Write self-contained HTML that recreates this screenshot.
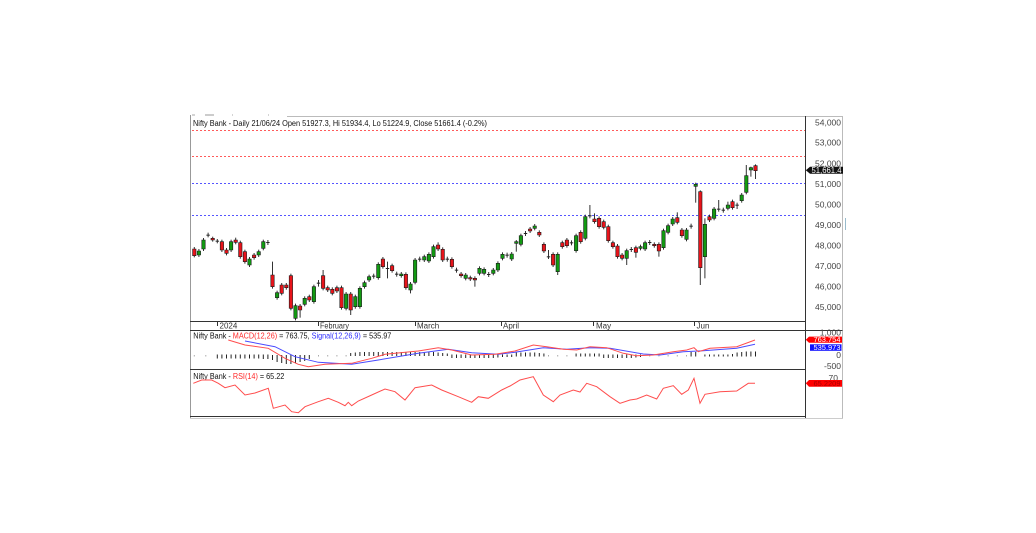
<!DOCTYPE html>
<html><head><meta charset="utf-8"><style>
html,body{margin:0;padding:0;background:#fff;}
svg{display:block;font-family:"Liberation Sans",Arial,sans-serif;}
.w{stroke:#333;stroke-width:1;vector-effect:non-scaling-stroke;}
.g{fill:#129a12;stroke:#1a1a1a;stroke-width:0.6;vector-effect:non-scaling-stroke;}
.r{fill:#e8141b;stroke:#1a1a1a;stroke-width:0.6;vector-effect:non-scaling-stroke;}
.d{fill:#222;}
.h{stroke:#222;stroke-width:1;vector-effect:non-scaling-stroke;}
.hd{stroke:#aaa;stroke-width:1;vector-effect:non-scaling-stroke;}
.ax{font-size:8.5px;fill:#444;text-anchor:end;}
.xl{font-size:8px;fill:#333;}
</style></head><body>
<svg width="1036" height="533" viewBox="0 0 1036 533" xmlns="http://www.w3.org/2000/svg">
<rect width="1036" height="533" fill="#fff"/>
<!-- frame -->
<line x1="190.5" y1="115" x2="190.5" y2="418" stroke="#999"/>
<line x1="287" y1="116.5" x2="842.5" y2="116.5" stroke="#bbb"/>
<line x1="842.5" y1="116" x2="842.5" y2="418" stroke="#bbb"/>
<line x1="190" y1="418.5" x2="843" y2="418.5" stroke="#ccc"/>
<line x1="192" y1="115" x2="195" y2="115" stroke="#aaa"/>
<line x1="205" y1="115" x2="214" y2="115" stroke="#999"/>
<line x1="232" y1="115" x2="233" y2="115" stroke="#aaa"/>
<line x1="268" y1="115" x2="269" y2="115" stroke="#aaa"/>
<line x1="845.5" y1="218" x2="845.5" y2="230" stroke="#9bc"/>
<!-- pane lines -->
<line x1="805.5" y1="116" x2="805.5" y2="418" stroke="#333"/>
<line x1="190" y1="321.5" x2="805.5" y2="321.5" stroke="#333"/>
<line x1="190" y1="330.5" x2="842.5" y2="330.5" stroke="#333"/>
<line x1="190" y1="369.5" x2="805.5" y2="369.5" stroke="#333"/>
<line x1="190" y1="416.5" x2="805.5" y2="416.5" stroke="#333"/>
<!-- dashed levels -->
<g stroke-width="1" stroke-dasharray="2 2">
<line x1="192" y1="130.5" x2="805" y2="130.5" stroke="#ff5a5a"/>
<line x1="192" y1="156.5" x2="805" y2="156.5" stroke="#ff5a5a"/>
<line x1="192" y1="183.5" x2="805" y2="183.5" stroke="#5555ff"/>
<line x1="192" y1="215.5" x2="805" y2="215.5" stroke="#5555ff"/>
</g>
<!-- title -->
<text x="193" y="126" font-size="8" fill="#111" textLength="294" lengthAdjust="spacingAndGlyphs">Nifty Bank - Daily 21/06/24 Open 51927.3, Hi 51934.4, Lo 51224.9, Close 51661.4 (-0.2%)</text>
<!-- candles -->
<g transform="matrix(4.6 0 0 0.333333 194.3 105)">
<line class="w" x1="0" x2="0" y1="426" y2="457"/><rect class="r" x="-.37" y="432" width=".74" height="20"/>
<line class="w" x1="1" x2="1" y1="432" y2="456"/><rect class="g" x=".63" y="438" width=".74" height="12"/>
<line class="w" x1="2" x2="2" y1="399" y2="438"/><rect class="g" x="1.63" y="405" width=".74" height="27"/>
<line class="w" x1="3" x2="3" y1="383" y2="397"/><rect class="d" x="2.63" y="389" width=".74" height="3"/>
<line class="w" x1="4" x2="4" y1="395" y2="410"/><rect class="r" x="3.63" y="400" width=".74" height="5"/>
<line class="w" x1="5" x2="5" y1="402" y2="415"/><rect class="d" x="4.63" y="407" width=".74" height="3"/>
<line class="w" x1="6" x2="6" y1="404" y2="441"/><rect class="r" x="5.63" y="410" width=".74" height="25"/>
<line class="w" x1="7" x2="7" y1="429" y2="451"/><rect class="r" x="6.63" y="435" width=".74" height="10"/>
<line class="w" x1="8" x2="8" y1="404" y2="441"/><rect class="g" x="7.63" y="410" width=".74" height="25"/>
<line class="w" x1="9" x2="9" y1="398" y2="418"/><rect class="r" x="8.63" y="405" width=".74" height="7"/>
<line class="w" x1="10" x2="10" y1="407" y2="461"/><rect class="r" x="9.63" y="413" width=".74" height="42"/>
<line class="w" x1="11" x2="11" y1="434" y2="476"/><rect class="r" x="10.63" y="440" width=".74" height="30"/>
<line class="w" x1="12" x2="12" y1="456" y2="486"/><rect class="g" x="11.63" y="462" width=".74" height="18"/>
<line class="w" x1="13" x2="13" y1="444" y2="464"/><rect class="r" x="12.63" y="450" width=".74" height="8"/>
<line class="w" x1="14" x2="14" y1="434" y2="456"/><rect class="g" x="13.63" y="440" width=".74" height="10"/>
<line class="w" x1="15" x2="15" y1="404" y2="436"/><rect class="g" x="14.63" y="410" width=".74" height="20"/>
<line class="w" x1="16" x2="16" y1="405" y2="420"/><rect class="d" x="15.63" y="411" width=".74" height="3"/>
<line class="w" x1="17" x2="17" y1="470" y2="551"/><rect class="r" x="16.63" y="510" width=".74" height="35"/>
<line class="w" x1="18" x2="18" y1="557" y2="584"/><rect class="g" x="17.63" y="563" width=".74" height="15"/>
<line class="w" x1="19" x2="19" y1="534" y2="571"/><rect class="r" x="18.63" y="540" width=".74" height="25"/>
<line class="w" x1="20" x2="20" y1="534" y2="554"/><rect class="r" x="19.63" y="540" width=".74" height="8"/>
<line class="w" x1="21" x2="21" y1="506" y2="616"/><rect class="r" x="20.63" y="512" width=".74" height="98"/>
<line class="w" x1="22" x2="22" y1="596" y2="646"/><rect class="g" x="21.63" y="602" width=".74" height="38"/>
<line class="w" x1="23" x2="23" y1="597" y2="638"/><rect class="r" x="22.63" y="603" width=".74" height="12"/>
<line class="w" x1="24" x2="24" y1="574" y2="604"/><rect class="g" x="23.63" y="580" width=".74" height="18"/>
<line class="w" x1="25" x2="25" y1="569" y2="591"/><rect class="r" x="24.63" y="575" width=".74" height="10"/>
<line class="w" x1="26" x2="26" y1="539" y2="596"/><rect class="g" x="25.63" y="545" width=".74" height="45"/>
<line class="w" x1="27" x2="27" y1="525" y2="545"/><rect class="d" x="26.63" y="533" width=".74" height="3"/>
<line class="w" x1="28" x2="28" y1="495" y2="556"/><rect class="r" x="27.63" y="512" width=".74" height="38"/>
<line class="w" x1="29" x2="29" y1="542" y2="561"/><rect class="r" x="28.63" y="548" width=".74" height="7"/>
<line class="w" x1="30" x2="30" y1="547" y2="571"/><rect class="r" x="29.63" y="553" width=".74" height="12"/>
<line class="w" x1="31" x2="31" y1="542" y2="564"/><rect class="r" x="30.63" y="548" width=".74" height="10"/>
<line class="w" x1="32" x2="32" y1="542" y2="614"/><rect class="r" x="31.63" y="548" width=".74" height="60"/>
<line class="w" x1="33" x2="33" y1="561" y2="616"/><rect class="g" x="32.63" y="567" width=".74" height="43"/>
<line class="w" x1="34" x2="34" y1="561" y2="630"/><rect class="r" x="33.63" y="567" width=".74" height="48"/>
<line class="w" x1="35" x2="35" y1="569" y2="611"/><rect class="g" x="34.63" y="575" width=".74" height="30"/>
<line class="w" x1="36" x2="36" y1="544" y2="611"/><rect class="g" x="35.63" y="550" width=".74" height="55"/>
<line class="w" x1="37" x2="37" y1="527" y2="551"/><rect class="g" x="36.63" y="533" width=".74" height="12"/>
<line class="w" x1="38" x2="38" y1="509" y2="531"/><rect class="g" x="37.63" y="515" width=".74" height="10"/>
<line class="w" x1="39" x2="39" y1="506" y2="521"/><rect class="d" x="38.63" y="512" width=".74" height="3"/>
<line class="w" x1="40" x2="40" y1="472" y2="524"/><rect class="g" x="39.63" y="478" width=".74" height="40"/>
<line class="w" x1="41" x2="41" y1="456" y2="491"/><rect class="r" x="40.63" y="462" width=".74" height="23"/>
<line class="w" x1="42" x2="42" y1="470" y2="520"/><rect class="d" x="41.63" y="489" width=".74" height="3"/>
<line class="w" x1="43" x2="43" y1="476" y2="503"/><rect class="r" x="42.63" y="482" width=".74" height="15"/>
<line class="w" x1="44" x2="44" y1="500" y2="515"/><rect class="d" x="43.63" y="506" width=".74" height="3"/>
<line class="w" x1="45" x2="45" y1="501" y2="518"/><rect class="g" x="44.63" y="507" width=".74" height="5"/>
<line class="w" x1="46" x2="46" y1="502" y2="554"/><rect class="r" x="45.63" y="508" width=".74" height="40"/>
<line class="w" x1="47" x2="47" y1="531" y2="565"/><rect class="g" x="46.63" y="537" width=".74" height="18"/>
<line class="w" x1="48" x2="48" y1="459" y2="538"/><rect class="g" x="47.63" y="465" width=".74" height="67"/>
<line class="w" x1="49" x2="49" y1="455" y2="470"/><rect class="d" x="48.63" y="461" width=".74" height="3"/>
<line class="w" x1="50" x2="50" y1="449" y2="471"/><rect class="g" x="49.63" y="455" width=".74" height="10"/>
<line class="w" x1="51" x2="51" y1="442" y2="474"/><rect class="g" x="50.63" y="448" width=".74" height="20"/>
<line class="w" x1="52" x2="52" y1="419" y2="461"/><rect class="g" x="51.63" y="425" width=".74" height="30"/>
<line class="w" x1="53" x2="53" y1="412" y2="438"/><rect class="r" x="52.63" y="420" width=".74" height="12"/>
<line class="w" x1="54" x2="54" y1="427" y2="471"/><rect class="r" x="53.63" y="433" width=".74" height="32"/>
<line class="w" x1="55" x2="55" y1="455" y2="470"/><rect class="d" x="54.63" y="461" width=".74" height="3"/>
<line class="w" x1="56" x2="56" y1="457" y2="491"/><rect class="r" x="55.63" y="463" width=".74" height="22"/>
<line class="w" x1="57" x2="57" y1="488" y2="503"/><rect class="d" x="56.63" y="494" width=".74" height="3"/>
<line class="w" x1="58" x2="58" y1="501" y2="518"/><rect class="r" x="57.63" y="507" width=".74" height="5"/>
<line class="w" x1="59" x2="59" y1="504" y2="526"/><rect class="g" x="58.63" y="510" width=".74" height="10"/>
<line class="w" x1="60" x2="60" y1="512" y2="528"/><rect class="r" x="59.63" y="518" width=".74" height="4"/>
<line class="w" x1="61" x2="61" y1="514" y2="545"/><rect class="r" x="60.63" y="520" width=".74" height="5"/>
<line class="w" x1="62" x2="62" y1="484" y2="511"/><rect class="g" x="61.63" y="490" width=".74" height="15"/>
<line class="w" x1="63" x2="63" y1="487" y2="511"/><rect class="g" x="62.63" y="493" width=".74" height="12"/>
<line class="w" x1="64" x2="64" y1="501" y2="516"/><rect class="d" x="63.63" y="507" width=".74" height="3"/>
<line class="w" x1="65" x2="65" y1="489" y2="511"/><rect class="g" x="64.63" y="495" width=".74" height="10"/>
<line class="w" x1="66" x2="66" y1="469" y2="501"/><rect class="g" x="65.63" y="475" width=".74" height="20"/>
<line class="w" x1="67" x2="67" y1="442" y2="466"/><rect class="g" x="66.63" y="448" width=".74" height="12"/>
<line class="w" x1="68" x2="68" y1="443" y2="458"/><rect class="d" x="67.63" y="449" width=".74" height="3"/>
<line class="w" x1="69" x2="69" y1="441" y2="468"/><rect class="g" x="68.63" y="447" width=".74" height="15"/>
<line class="w" x1="70" x2="70" y1="405" y2="440"/><rect class="g" x="69.63" y="410" width=".74" height="5"/>
<line class="w" x1="71" x2="71" y1="386" y2="424"/><rect class="g" x="70.63" y="392" width=".74" height="26"/>
<line class="w" x1="72" x2="72" y1="378" y2="393"/><rect class="d" x="71.63" y="384" width=".74" height="3"/>
<line class="w" x1="73" x2="73" y1="366" y2="384"/><rect class="r" x="72.63" y="372" width=".74" height="6"/>
<line class="w" x1="74" x2="74" y1="357" y2="376"/><rect class="g" x="73.63" y="363" width=".74" height="7"/>
<line class="w" x1="75" x2="75" y1="376" y2="396"/><rect class="r" x="74.63" y="382" width=".74" height="8"/>
<line class="w" x1="76" x2="76" y1="412" y2="444"/><rect class="r" x="75.63" y="418" width=".74" height="20"/>
<line class="w" x1="77" x2="77" y1="435" y2="462"/><rect class="d" x="76.63" y="454" width=".74" height="3"/>
<line class="w" x1="78" x2="78" y1="442" y2="486"/><rect class="r" x="77.63" y="448" width=".74" height="32"/>
<line class="w" x1="79" x2="79" y1="442" y2="510"/><rect class="g" x="78.63" y="448" width=".74" height="52"/>
<line class="w" x1="80" x2="80" y1="407" y2="431"/><rect class="r" x="79.63" y="413" width=".74" height="12"/>
<line class="w" x1="81" x2="81" y1="399" y2="428"/><rect class="r" x="80.63" y="405" width=".74" height="17"/>
<line class="w" x1="82" x2="82" y1="406" y2="421"/><rect class="d" x="81.63" y="412" width=".74" height="3"/>
<line class="w" x1="83" x2="83" y1="386" y2="443"/><rect class="g" x="82.63" y="392" width=".74" height="45"/>
<line class="w" x1="84" x2="84" y1="376" y2="416"/><rect class="r" x="83.63" y="382" width=".74" height="28"/>
<line class="w" x1="85" x2="85" y1="329" y2="406"/><rect class="g" x="84.63" y="335" width=".74" height="65"/>
<line class="w" x1="86" x2="86" y1="300" y2="340"/><rect class="d" x="85.63" y="331" width=".74" height="3"/>
<line class="w" x1="87" x2="87" y1="325" y2="356"/><rect class="r" x="86.63" y="342" width=".74" height="8"/>
<line class="w" x1="88" x2="88" y1="334" y2="371"/><rect class="r" x="87.63" y="340" width=".74" height="25"/>
<line class="w" x1="89" x2="89" y1="344" y2="373"/><rect class="r" x="88.63" y="350" width=".74" height="17"/>
<line class="w" x1="90" x2="90" y1="359" y2="413"/><rect class="r" x="89.63" y="365" width=".74" height="42"/>
<line class="w" x1="91" x2="91" y1="407" y2="431"/><rect class="r" x="90.63" y="413" width=".74" height="12"/>
<line class="w" x1="92" x2="92" y1="417" y2="461"/><rect class="r" x="91.63" y="423" width=".74" height="32"/>
<line class="w" x1="93" x2="93" y1="444" y2="466"/><rect class="r" x="92.63" y="450" width=".74" height="10"/>
<line class="w" x1="94" x2="94" y1="431" y2="480"/><rect class="g" x="93.63" y="437" width=".74" height="23"/>
<line class="w" x1="95" x2="95" y1="426" y2="441"/><rect class="d" x="94.63" y="432" width=".74" height="3"/>
<line class="w" x1="96" x2="96" y1="422" y2="458"/><rect class="r" x="95.63" y="428" width=".74" height="14"/>
<line class="w" x1="97" x2="97" y1="419" y2="436"/><rect class="g" x="96.63" y="425" width=".74" height="5"/>
<line class="w" x1="98" x2="98" y1="407" y2="438"/><rect class="g" x="97.63" y="413" width=".74" height="19"/>
<line class="w" x1="99" x2="99" y1="405" y2="420"/><rect class="d" x="98.63" y="411" width=".74" height="3"/>
<line class="w" x1="100" x2="100" y1="412" y2="428"/><rect class="r" x="99.63" y="418" width=".74" height="4"/>
<line class="w" x1="101" x2="101" y1="412" y2="455"/><rect class="r" x="100.63" y="418" width=".74" height="20"/>
<line class="w" x1="102" x2="102" y1="371" y2="434"/><rect class="g" x="101.63" y="377" width=".74" height="51"/>
<line class="w" x1="103" x2="103" y1="356" y2="388"/><rect class="g" x="102.63" y="362" width=".74" height="20"/>
<line class="w" x1="104" x2="104" y1="336" y2="363"/><rect class="g" x="103.63" y="342" width=".74" height="15"/>
<line class="w" x1="105" x2="105" y1="322" y2="358"/><rect class="r" x="104.63" y="338" width=".74" height="14"/>
<line class="w" x1="106" x2="106" y1="369" y2="398"/><rect class="r" x="105.63" y="375" width=".74" height="17"/>
<line class="w" x1="107" x2="107" y1="369" y2="409"/><rect class="g" x="106.63" y="375" width=".74" height="28"/>
<line class="w" x1="108" x2="108" y1="356" y2="371"/><rect class="d" x="107.63" y="362" width=".74" height="3"/>
<line class="w" x1="109" x2="109" y1="233" y2="293"/><rect class="g" x="108.63" y="238" width=".74" height="6"/>
<line class="w" x1="110" x2="110" y1="256" y2="540"/><rect class="r" x="109.63" y="260" width=".74" height="228"/>
<line class="w" x1="111" x2="111" y1="340" y2="520"/><rect class="g" x="110.63" y="358" width=".74" height="97"/>
<line class="w" x1="112" x2="112" y1="329" y2="351"/><rect class="r" x="111.63" y="335" width=".74" height="10"/>
<line class="w" x1="113" x2="113" y1="306" y2="346"/><rect class="g" x="112.63" y="312" width=".74" height="28"/>
<line class="w" x1="114" x2="114" y1="285" y2="320"/><rect class="d" x="113.63" y="311" width=".74" height="3"/>
<line class="w" x1="115" x2="115" y1="308" y2="323"/><rect class="d" x="114.63" y="314" width=".74" height="3"/>
<line class="w" x1="116" x2="116" y1="290" y2="316"/><rect class="g" x="115.63" y="300" width=".74" height="10"/>
<line class="w" x1="117" x2="117" y1="284" y2="314"/><rect class="r" x="116.63" y="290" width=".74" height="18"/>
<line class="w" x1="118" x2="118" y1="293" y2="312"/><rect class="d" x="117.63" y="299" width=".74" height="3"/>
<line class="w" x1="119" x2="119" y1="264" y2="293"/><rect class="g" x="118.63" y="270" width=".74" height="17"/>
<line class="w" x1="120" x2="120" y1="180" y2="268"/><rect class="g" x="119.63" y="212" width=".74" height="50"/>
<line class="w" x1="121" x2="121" y1="185" y2="215"/><rect class="g" x="120.63" y="188" width=".74" height="7"/>
<line class="w" x1="122" x2="122" y1="178" y2="222"/><rect class="r" x="121.63" y="182" width=".74" height="15"/>
</g>
<!-- price axis labels -->
<text class="ax" x="841" y="125.3">54,000</text>
<text class="ax" x="841" y="145.7">53,000</text>
<text class="ax" x="841" y="166.3">52,000</text>
<text class="ax" x="841" y="187">51,000</text>
<text class="ax" x="841" y="207.3">50,000</text>
<text class="ax" x="841" y="228">49,000</text>
<text class="ax" x="841" y="248.3">48,000</text>
<text class="ax" x="841" y="269">47,000</text>
<text class="ax" x="841" y="289.7">46,000</text>
<text class="ax" x="841" y="310">45,000</text>
<polygon points="805.8,170.3 810,166.8 843,166.8 843,173.8 810,173.8" fill="#111"/>
<text x="841.5" y="173" font-size="8" fill="#fff" text-anchor="end" textLength="30" lengthAdjust="spacingAndGlyphs">51,661.4</text>
<!-- x axis -->
<g stroke="#333" stroke-width="1">
<line x1="217.5" y1="322" x2="217.5" y2="326"/>
<line x1="318.5" y1="322" x2="318.5" y2="326"/>
<line x1="415.5" y1="322" x2="415.5" y2="326"/>
<line x1="501.5" y1="322" x2="501.5" y2="326"/>
<line x1="593.5" y1="322" x2="593.5" y2="326"/>
<line x1="694.5" y1="322" x2="694.5" y2="326"/>
</g>
<text class="xl" x="219.5" y="328.3">2024</text>
<text class="xl" x="320" y="328.3" textLength="29" lengthAdjust="spacingAndGlyphs">February</text>
<text class="xl" x="417" y="328.3">March</text>
<text class="xl" x="503" y="328.3">April</text>
<text class="xl" x="596" y="328.3">May</text>
<text class="xl" x="696.5" y="328.3">Jun</text>
<!-- MACD pane -->
<text x="193.3" y="338.5" font-size="8" fill="#111" textLength="198" lengthAdjust="spacingAndGlyphs">Nifty Bank - <tspan fill="#ff2a2a">MACD(12,26)</tspan> = 763.75, <tspan fill="#3030ff">Signal(12,26,9)</tspan> = 535.97</text>
<g transform="matrix(4.6 0 0 1 194.3 0)">
<line class="hd" x1="0" x2="0" y1="355" y2="356.5"/>
<line class="hd" x1="2.5" x2="2.5" y1="355" y2="356.5"/>
<line class="h" x1="5" x2="5" y1="354.5" y2="358.5"/><line class="h" x1="6" x2="6" y1="354.5" y2="358.5"/><line class="h" x1="7" x2="7" y1="354.5" y2="358.5"/><line class="h" x1="8" x2="8" y1="354.5" y2="358.5"/><line class="h" x1="9" x2="9" y1="354.5" y2="358.5"/><line class="h" x1="10" x2="10" y1="354.5" y2="358.5"/><line class="h" x1="11" x2="11" y1="354.5" y2="358.5"/><line class="h" x1="12" x2="12" y1="354.5" y2="358.5"/><line class="h" x1="13" x2="13" y1="354.5" y2="358.5"/><line class="h" x1="14" x2="14" y1="354.5" y2="358.5"/><line class="h" x1="15" x2="15" y1="354.5" y2="359"/><line class="h" x1="16" x2="16" y1="354.5" y2="359"/>
<line class="h" x1="17" x2="17" y1="355" y2="360"/><line class="h" x1="18" x2="18" y1="355" y2="362"/><line class="h" x1="19" x2="19" y1="355" y2="363"/><line class="h" x1="20" x2="20" y1="355" y2="364"/><line class="h" x1="21" x2="21" y1="355" y2="364"/><line class="h" x1="22" x2="22" y1="355" y2="363"/><line class="h" x1="23" x2="23" y1="355" y2="362"/><line class="h" x1="24" x2="24" y1="355" y2="361"/><line class="h" x1="25" x2="25" y1="355" y2="359"/>
<line class="hd" x1="27" x2="27" y1="355" y2="356.5"/><line class="hd" x1="29" x2="29" y1="355" y2="356.5"/><line class="hd" x1="31" x2="31" y1="355" y2="356.5"/><line class="hd" x1="33" x2="33" y1="355" y2="356.5"/>
<line class="h" x1="34" x2="34" y1="353" y2="356"/><line class="h" x1="35" x2="35" y1="352.5" y2="356"/><line class="h" x1="36" x2="36" y1="352" y2="356"/><line class="h" x1="37" x2="37" y1="352" y2="356"/><line class="h" x1="38" x2="38" y1="352" y2="356"/><line class="h" x1="39" x2="39" y1="352" y2="356"/><line class="h" x1="40" x2="40" y1="352" y2="356"/><line class="h" x1="41" x2="41" y1="352" y2="356"/><line class="h" x1="42" x2="42" y1="352" y2="356"/><line class="h" x1="43" x2="43" y1="352" y2="356"/><line class="h" x1="44" x2="44" y1="352" y2="356"/><line class="h" x1="45" x2="45" y1="352" y2="356"/><line class="h" x1="46" x2="46" y1="352" y2="356"/><line class="h" x1="47" x2="47" y1="352" y2="356"/><line class="h" x1="48" x2="48" y1="352" y2="356"/><line class="h" x1="49" x2="49" y1="352" y2="356"/><line class="h" x1="50" x2="50" y1="352" y2="356"/><line class="h" x1="51" x2="51" y1="352" y2="356"/><line class="h" x1="52" x2="52" y1="352" y2="356"/><line class="h" x1="53" x2="53" y1="352.5" y2="356"/><line class="h" x1="54" x2="54" y1="353" y2="356"/><line class="h" x1="55" x2="55" y1="353.5" y2="356"/>
<line class="h" x1="56" x2="56" y1="354.5" y2="358"/><line class="h" x1="57" x2="57" y1="354.5" y2="358"/><line class="h" x1="58" x2="58" y1="354.5" y2="358"/><line class="h" x1="59" x2="59" y1="354.5" y2="358"/><line class="h" x1="60" x2="60" y1="354.5" y2="358"/><line class="h" x1="61" x2="61" y1="354.5" y2="358"/><line class="h" x1="62" x2="62" y1="354.5" y2="358"/><line class="h" x1="63" x2="63" y1="354.5" y2="358"/><line class="h" x1="64" x2="64" y1="354.5" y2="358"/><line class="h" x1="65" x2="65" y1="354.5" y2="358"/><line class="h" x1="66" x2="66" y1="354.5" y2="357.5"/><line class="h" x1="67" x2="67" y1="354.5" y2="357"/><line class="h" x1="68" x2="68" y1="354.5" y2="357"/><line class="h" x1="69" x2="69" y1="354.5" y2="357"/>
<line class="h" x1="70" x2="70" y1="352.5" y2="356.5"/><line class="h" x1="71" x2="71" y1="352.5" y2="356.5"/><line class="h" x1="72" x2="72" y1="352.5" y2="356.5"/><line class="h" x1="73" x2="73" y1="352.5" y2="356.5"/><line class="h" x1="74" x2="74" y1="352.5" y2="356.5"/><line class="h" x1="75" x2="75" y1="353" y2="356.5"/><line class="h" x1="76" x2="76" y1="353.5" y2="356.5"/>
<line class="hd" x1="77" x2="77" y1="355" y2="356.5"/><line class="hd" x1="79" x2="79" y1="355" y2="356.5"/><line class="hd" x1="81" x2="81" y1="355" y2="356.5"/>
<line class="h" x1="83" x2="83" y1="353.5" y2="356.5"/><line class="h" x1="84" x2="84" y1="353.5" y2="356.5"/><line class="h" x1="85" x2="85" y1="353.5" y2="356.5"/><line class="h" x1="86" x2="86" y1="353.5" y2="356.5"/><line class="h" x1="87" x2="87" y1="353.5" y2="356.5"/><line class="h" x1="88" x2="88" y1="353.5" y2="356.5"/>
<line class="h" x1="89" x2="89" y1="354.5" y2="358"/><line class="h" x1="90" x2="90" y1="354.5" y2="358"/><line class="h" x1="91" x2="91" y1="354.5" y2="358"/><line class="h" x1="92" x2="92" y1="354.5" y2="358"/><line class="h" x1="93" x2="93" y1="354.5" y2="358"/><line class="h" x1="94" x2="94" y1="354.5" y2="358"/><line class="h" x1="95" x2="95" y1="354.5" y2="358"/><line class="h" x1="96" x2="96" y1="354.5" y2="357.5"/><line class="h" x1="97" x2="97" y1="354.5" y2="357"/>
<line class="hd" x1="99" x2="99" y1="355" y2="356.5"/><line class="hd" x1="101" x2="101" y1="355" y2="356.5"/><line class="hd" x1="103" x2="103" y1="355" y2="356.5"/><line class="hd" x1="105" x2="105" y1="355" y2="356.5"/><line class="hd" x1="107" x2="107" y1="355" y2="356.5"/>
<line class="h" x1="108" x2="108" y1="352" y2="356.5"/><line class="h" x1="109" x2="109" y1="352" y2="356.5"/>
<line class="h" x1="111" x2="111" y1="354.5" y2="356.5"/><line class="h" x1="112" x2="112" y1="354.5" y2="356.5"/><line class="h" x1="113" x2="113" y1="354.5" y2="356.5"/><line class="h" x1="114" x2="114" y1="354.5" y2="356.5"/><line class="h" x1="115" x2="115" y1="354.5" y2="356.5"/><line class="h" x1="116" x2="116" y1="354.5" y2="356.5"/><line class="h" x1="117" x2="117" y1="354" y2="356.5"/>
<line class="h" x1="118" x2="118" y1="352.5" y2="356.5"/><line class="h" x1="119" x2="119" y1="352" y2="356.5"/><line class="h" x1="120" x2="120" y1="351.5" y2="356.5"/><line class="h" x1="121" x2="121" y1="351.5" y2="356.5"/><line class="h" x1="122" x2="122" y1="351.5" y2="356.5"/>
</g>
<polyline fill="none" stroke="#4a4aff" stroke-width="1" points="245,341 275,346.7 295,356.7 318.3,362.3 351.7,364.3 378.3,360 418.3,353.3 448.3,349.3 471.7,352.7 498.3,354.3 515,352.3 543.3,347.7 566.7,349.3 590,347.7 610,348.3 643.3,354 660,355 683.3,351.7 703.3,350.7 736.7,348.3 755,344.3"/>
<polyline fill="none" stroke="#ff4d4d" stroke-width="1" points="228.3,340 245,345 268.3,348.3 285,358.3 298.3,364.3 308.3,366.7 325,364.3 351.7,363.3 371.7,358.3 385,354.3 418.3,351 438.3,347.7 451.7,350 471.7,355 495,354.3 515,351 533.3,345 546.7,346.7 563.3,349.3 576.7,350 590,346.7 606.7,347.7 623.3,353.3 636.7,355.7 653.3,355 673.3,351.7 686.7,350 694,347.7 698.3,351.7 710,348.3 736.7,346.7 755,340"/>
<text class="ax" x="841" y="335.5" font-size="8">1,000</text>
<text class="ax" x="841" y="358" font-size="8">0</text>
<text class="ax" x="841" y="369" font-size="8">-500</text>
<polygon points="805.8,339.7 809,336.6 842,336.6 842,342.8 809,342.8" fill="#ff0000"/>
<text x="840.5" y="342" font-size="7.5" fill="#fff" text-anchor="end" textLength="27" lengthAdjust="spacingAndGlyphs">763.754</text>
<rect x="810" y="344.3" width="31.5" height="6.5" fill="#1010ff"/>
<text x="840.5" y="350.2" font-size="7.5" fill="#fff" text-anchor="end" textLength="27" lengthAdjust="spacingAndGlyphs">535.973</text>
<!-- RSI pane -->
<text x="193.3" y="379" font-size="8" fill="#111" textLength="91" lengthAdjust="spacingAndGlyphs">Nifty Bank - <tspan fill="#ff2a2a">RSI(14)</tspan> = 65.22</text>
<polyline fill="none" stroke="#ff4d4d" stroke-width="1" points="193.3,383.3 201.7,380 211.7,380 218.3,383.3 225,387.7 235,385 245,395 255,393 268.3,388.3 273.3,408.3 285,405 291.7,411.7 298.3,412.7 305,406.7 318.3,401.7 328.3,398.3 338.3,402.3 345,405.7 348.3,402.3 351.7,405.7 358.3,401 371.7,395 385,389 395,391.7 405,400 415,387.7 431.7,385 441.7,390 458.3,396.7 471.7,402.3 478.3,396.7 488.3,398.3 501.7,390 510,386 520,380 533.3,376.7 543.3,395 553.3,401.7 560,395 573.3,390 580,392 586.7,383.3 596.7,386.7 610,396.7 620,403.3 630,400 636.7,399 646.7,395 656.7,399 663.3,388.3 673.3,385.7 681.7,394.3 688.3,390 694,378.3 700,403.3 705,394.3 720,391.7 736.7,391 748.3,383.3 755,383.3"/>
<text class="ax" x="838" y="381" font-size="8">70</text>
<polygon points="805.8,383.3 809,380 842,380 842,386.7 809,386.7" fill="#ff0000"/>
<text x="840.5" y="386" font-size="7.5" fill="#a00" text-anchor="end" textLength="27" lengthAdjust="spacingAndGlyphs">65.2209</text>
</svg>
</body></html>
